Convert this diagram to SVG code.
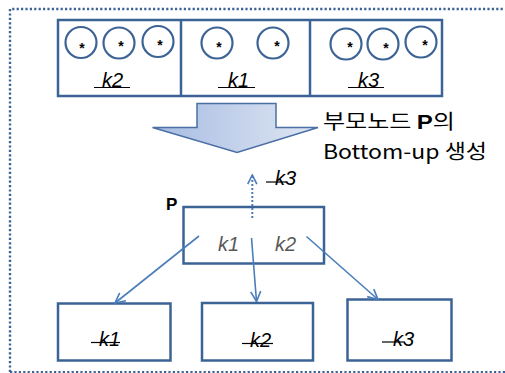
<svg xmlns="http://www.w3.org/2000/svg" width="505" height="373" viewBox="0 0 505 373">
<style>
.box{fill:#fff;stroke:#3c6395;stroke-width:2.5}
.cir{fill:none;stroke:#3c6395;stroke-width:2.2}
.ast{font-family:"Liberation Sans",Arial,sans-serif;font-size:14px;font-weight:bold;fill:#000;text-anchor:middle}
.lbl{font-family:"Liberation Sans",Arial,sans-serif;font-style:italic;font-size:20px;fill:#000}
.glbl{font-family:"Liberation Sans",Arial,sans-serif;font-style:italic;font-size:20px;fill:#595959}
.strk{stroke:#000;stroke-width:1.2}
.con{stroke:#4a7ebb;stroke-width:1.6;fill:none}
.kr{font-family:"Noto Sans CJK KR","Liberation Sans",sans-serif;font-size:20px;fill:#000}
</style>
<defs>
<marker id="ah" viewBox="0 0 12 12" refX="11" refY="6" markerWidth="12" markerHeight="12" markerUnits="userSpaceOnUse" orient="auto">
<path d="M1,1 L11,6 L1,11" fill="none" stroke="#4a7ebb" stroke-width="1.6"/>
</marker>
<marker id="ahd" viewBox="0 0 12 12" refX="11" refY="6" markerWidth="11" markerHeight="11" markerUnits="userSpaceOnUse" orient="auto">
<path d="M1,1 L11,6 L1,11" fill="none" stroke="#4a7ebb" stroke-width="1.8"/>
</marker>
<linearGradient id="g" x1="0" y1="0" x2="1" y2="0">
<stop offset="0" stop-color="#a7bce2"/>
<stop offset="1" stop-color="#dfe6f3"/>
</linearGradient>
</defs>
<path d="M10,372 L10,9 L505,9" fill="none" stroke="#3c6395" stroke-width="2.4" stroke-dasharray="2.2 2.2"/>
<path d="M10,372 L505,372" fill="none" stroke="#3c6395" stroke-width="2" stroke-dasharray="2.2 2.2"/>

<g id="top">
<rect class="box" x="58" y="20" width="384" height="76"/>
<line x1="181" y1="20" x2="181" y2="96" stroke="#3c6395" stroke-width="2.5"/>
<line x1="310" y1="20" x2="310" y2="96" stroke="#3c6395" stroke-width="2.5"/>
<circle class="cir" cx="81" cy="42.5" r="15.5"/>
<circle class="cir" cx="119" cy="43" r="15.5"/>
<circle class="cir" cx="158" cy="41.5" r="15.5"/>
<circle class="cir" cx="217" cy="43" r="15.5"/>
<circle class="cir" cx="273" cy="43" r="15.5"/>
<circle class="cir" cx="346" cy="44" r="15.5"/>
<circle class="cir" cx="383" cy="44" r="15.5"/>
<circle class="cir" cx="421" cy="42" r="15.5"/>
<text class="ast" x="82" y="53">*</text>
<text class="ast" x="121" y="51">*</text>
<text class="ast" x="160" y="50">*</text>
<text class="ast" x="219" y="52">*</text>
<text class="ast" x="277" y="51">*</text>
<text class="ast" x="350" y="52">*</text>
<text class="ast" x="386" y="53">*</text>
<text class="ast" x="425" y="50">*</text>
<text class="lbl" x="102" y="87">k2</text>
<line class="strk" x1="94" y1="87.5" x2="130" y2="87.5"/>
<text class="lbl" x="228" y="87">k1</text>
<line class="strk" x1="218" y1="87.5" x2="255" y2="87.5"/>
<text class="lbl" x="358" y="87">k3</text>
<line class="strk" x1="348" y1="87.5" x2="384" y2="87.5"/>
</g>

<g id="bigarrow">
<path d="M197,103.5 L276,103.5 L276,127.5 L318,127.5 L237,152.5 L152.5,127.5 L197,127.5 Z" fill="url(#g)" stroke="#4a6fa5" stroke-width="1.5"/>
<text class="kr" x="323" y="129" textLength="132" lengthAdjust="spacingAndGlyphs">부모노드 <tspan font-weight="bold" font-family="'Liberation Sans',sans-serif">P</tspan>의</text>
<text class="kr" x="323" y="159" textLength="164" lengthAdjust="spacingAndGlyphs">Bottom-up 생성</text>
</g>

<g id="P">
<rect class="box" x="183.5" y="207" width="140.5" height="56.5"/>
<text x="166" y="210" font-family="'Liberation Sans',Arial,sans-serif" font-weight="bold" font-size="17" fill="#000">P</text>
<text class="glbl" x="218" y="251">k1</text>
<text class="glbl" x="275" y="251">k2</text>
</g>

<g id="b1">
<rect class="box" x="58" y="303.5" width="112.5" height="57"/>
<text class="lbl" x="99" y="346">k1</text>
<line class="strk" x1="91" y1="342.5" x2="120" y2="342.5"/>
</g>
<g id="b2">
<rect class="box" x="202" y="303" width="111" height="57.5"/>
<text class="lbl" x="250" y="347">k2</text>
<line class="strk" x1="242" y1="343.5" x2="273" y2="343.5"/>
</g>
<g id="b3">
<rect class="box" x="347.5" y="299.5" width="104" height="61"/>
<text class="lbl" x="393" y="346">k3</text>
<line class="strk" x1="382" y1="342" x2="405" y2="342"/>
</g>

<g id="connectors">
<line class="con" x1="199" y1="236" x2="115" y2="303" marker-end="url(#ah)"/>
<line class="con" x1="251.5" y1="238" x2="256.5" y2="301.5" marker-end="url(#ah)"/>
<line class="con" x1="306.5" y1="236.5" x2="378" y2="299.5" marker-end="url(#ah)"/>
<line x1="252.3" y1="218" x2="252.3" y2="175" stroke="#4a7ebb" stroke-width="2" stroke-dasharray="2 2" marker-end="url(#ahd)"/>
<text class="lbl" x="275" y="185">k3</text>
<line class="strk" x1="266" y1="182" x2="286" y2="182"/>
</g>
</svg>
